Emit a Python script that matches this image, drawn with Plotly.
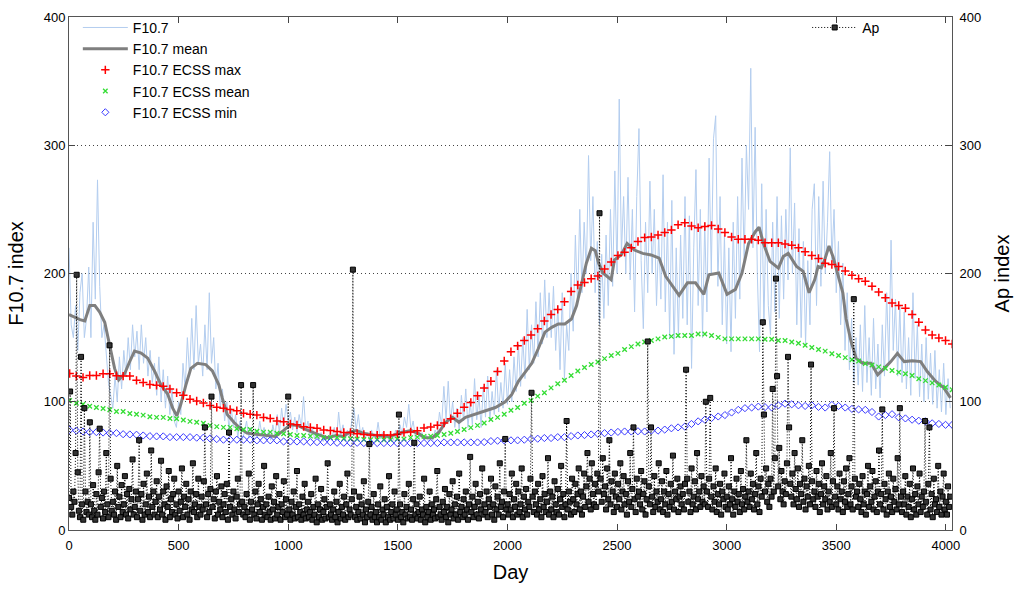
import numpy as np
import plotly.graph_objects as go

# ---------------- data ----------------
f107_days = list(range(0, 4021, 10))
f107 = [
    220, 160, 150, 175, 140, 185, 200, 150, 165, 205, 150, 240, 180, 273, 190, 150, 160, 135, 115, 105,
    95, 120, 100, 135, 110, 140, 120, 150, 125, 160, 135, 155, 125, 160, 130, 150, 120, 140, 115, 130,
    105, 135, 100, 125, 95, 120, 90, 110, 85, 80, 100, 90, 130, 110, 150, 120, 165, 125, 175, 130,
    145, 120, 160, 125, 185, 130, 150, 110, 130, 95, 110, 85, 100, 78, 95, 80, 90, 72, 85, 70,
    76, 85, 72, 80, 70, 78, 72, 85, 74, 80, 71, 77, 70, 82, 73, 90, 76, 95, 80, 98,
    85, 92, 78, 88, 76, 90, 80, 104, 78, 85, 72, 80, 71, 78, 70, 76, 69, 74, 68, 75,
    72, 80, 70, 92, 74, 82, 70, 78, 72, 85, 95, 78, 90, 74, 80, 71, 76, 70, 78, 72,
    72, 84, 71, 76, 70, 74, 69, 75, 70, 78, 72, 82, 74, 88, 80, 98, 78, 85, 72, 78,
    72, 76, 70, 74, 69, 73, 70, 78, 74, 92, 82, 112, 86, 116, 84, 100, 80, 95, 78, 105,
    85, 110, 80, 100, 82, 118, 86, 105, 80, 112, 88, 120, 85, 108, 90, 125, 92, 115, 95, 130,
    98, 125, 100, 135, 108, 145, 112, 150, 118, 172, 125, 160, 130, 178, 135, 185, 145, 195, 150, 185,
    150, 190, 140, 175, 125, 185, 118, 160, 140, 200, 155, 230, 175, 250, 185, 240, 200, 292, 210, 260,
    185, 225, 160, 215, 165, 230, 175, 250, 190, 280, 200, 336, 215, 260, 200, 275, 195, 250, 170, 260,
    313, 210, 157, 240, 185, 272, 200, 250, 175, 230, 180, 277, 170, 240, 150, 257, 137, 220, 150, 230,
    165, 260, 160, 245, 126, 220, 281, 175, 250, 150, 240, 170, 290, 200, 305, 323, 190, 260, 160, 230,
    145, 220, 139, 240, 165, 260, 180, 290, 210, 300, 250, 360, 220, 314, 200, 139, 270, 160, 250, 175,
    152, 240, 170, 260, 165, 245, 180, 250, 195, 298, 200, 255, 160, 235, 150, 225, 145, 210, 160, 250,
    270, 175, 260, 190, 272, 200, 240, 295, 210, 250, 185, 225, 160, 208, 140, 185, 125, 165, 115, 150,
    113, 160, 108, 175, 115, 150, 105, 165, 110, 145, 103, 160, 120, 185, 130, 226, 140, 180, 120, 175,
    115, 170, 110, 150, 105, 185, 118, 160, 104, 145, 100, 150, 102, 138, 98, 140, 95, 125, 92, 130, 90, 118, 95,
]

mean_days = [
    0, 50, 72, 95, 118, 140, 163, 186, 208, 227, 254, 276, 299, 329, 359, 390, 420, 450, 473, 492,
    510, 533, 556, 586, 624, 654, 684, 699, 722, 752, 782, 812, 858, 903, 941, 978, 1009, 1046, 1084, 1129,
    1175, 1220, 1250, 1281, 1311, 1341, 1401, 1462, 1522, 1560, 1598, 1620, 1658, 1688, 1718, 1749, 1779, 1809, 1854, 1899,
    1945, 1990, 2020, 2050, 2081, 2111, 2141, 2171, 2202, 2232, 2262, 2292, 2315, 2337, 2360, 2383, 2401, 2416, 2436, 2473,
    2488, 2519, 2546, 2579, 2617, 2655, 2692, 2722, 2753, 2783, 2821, 2858, 2896, 2919, 2964, 3002, 3040, 3070, 3100, 3130,
    3148, 3168, 3198, 3236, 3258, 3281, 3319, 3349, 3376, 3402, 3417, 3432, 3447, 3467, 3485, 3508, 3530, 3545, 3568, 3591,
    3621, 3659, 3689, 3719, 3749, 3779, 3810, 3847, 3885, 3915, 3953, 3991, 4021,
]
mean_vals = [
    168, 164, 163, 175, 175, 170, 162, 144, 126, 117, 122, 131, 139.5, 138, 134, 124, 113, 106, 95, 89,
    98, 113, 126, 130, 129, 124, 113, 103, 90, 84, 79, 75.5, 74.5, 73.7, 73, 77.5, 82, 81.4, 78, 75,
    72, 73.7, 73, 76.3, 77.5, 75.5, 73.7, 73, 76.3, 77.5, 75, 72, 72, 76.3, 84, 87.8, 84, 87.8, 90.3, 92.4,
    95.5, 100, 105.7, 116, 123.6, 130, 141.5, 154.3, 158, 160.7, 160.7, 164.5, 174.8, 190, 208, 219.6, 217.7, 208, 200.4, 195.2,
    210.6, 214.5, 223.4, 218.3, 215.7, 214.5, 212, 197.8, 190.2, 183, 192.7, 192.7, 183.7, 199, 200.4, 183.7, 187.6, 200.4, 223.4, 232.4,
    236.2, 223.4, 209.4, 204.2, 213.2, 215.7, 205.5, 201.7, 185, 195.3, 205.5, 204.5, 210.6, 221.4, 213.2, 197.8, 185, 164.5, 146.6, 133.8,
    130, 130, 121, 126, 131.3, 137.7, 131.3, 132, 131.3, 123.6, 116, 110.8, 103,
]

ecss_days = list(np.arange(133) * 30.5 + 3)
ecss_max = [
    122, 120, 119, 120.5, 120.5, 121.8, 121.8, 120.3, 120, 120,
    116.7, 115, 113.4, 112.8, 112, 110, 107, 105, 102, 100.6,
    99, 97, 95.7, 95, 94, 93, 91, 90.3, 89.6, 87.8,
    87, 85, 84.4, 82.7, 82, 80.6, 80, 79.3, 78, 77.5,
    76.8, 76, 76, 75, 74.5, 74, 74, 74, 74, 74.5,
    76, 76.5, 77.3, 79.6, 80.4, 81.6, 83.4, 86.8, 91, 95.7,
    99.5, 104.7, 110.8, 116, 123.6, 131.8, 139, 143.6, 147.7, 152,
    157, 163, 168, 172, 178, 186, 191, 193, 196, 198,
    203.5, 209, 214, 216.5, 220, 225, 228, 228.5, 230, 232,
    234, 238, 239.5, 237, 235.7, 236.7, 237.5, 234.7, 232, 228.5,
    226.7, 226.7, 226.7, 226, 224, 224, 224, 223, 222, 220,
    217, 214, 211.7, 208, 207, 205.5, 202, 198.6, 196, 194,
    190, 185.5, 181, 177, 175, 173, 168, 162, 156, 152,
    149.7, 147.7, 145,
]
ecss_mean = [
    101, 98.8, 98, 96.5, 95.5, 94.7, 93.7, 92.4, 92.4, 90.9,
    90.3, 89.6, 88.3, 87.8, 87.8, 87, 86.8, 85.8, 84.7, 84,
    83.2, 81.6, 80.6, 80, 80, 79, 78.3, 78.3, 77, 76.3,
    76.3, 75.5, 75, 74.5, 73.7, 73.7, 73.2, 73, 72, 72,
    72, 71.2, 71.2, 71, 70.6, 70.4, 70.4, 70.4, 70.4, 71,
    71, 72, 72.4, 73, 73.2, 73.7, 74.5, 75.5, 76.8, 78.3,
    79.8, 81.6, 83.4, 86.2, 87.8, 90.3, 93.4, 95.5, 98.8, 101,
    104.4, 107, 110.8, 114, 116.7, 120.5, 124, 126.7, 129, 131,
    133.6, 136, 137.7, 140.7, 143, 145, 146.6, 147.7, 149, 150.5,
    151, 151.7, 151.7, 151.7, 152.8, 152.8, 151.7, 150.2, 149, 149,
    149, 149, 149, 149, 148.7, 148.7, 147.7, 147.7, 146.6, 145.6,
    144, 142.3, 140.7, 139.5, 137.4, 136, 134.4, 132.8, 131.8, 129.7,
    128.7, 127.2, 126.1, 124.4, 123, 121.8, 120.5, 118, 116.5, 114.7,
    113, 111.3, 109.3,
]
ecss_min = [
    78, 77.5, 76.8, 76.3, 76.3, 76, 75.5, 75.5, 74.7, 74.5,
    74.3, 73.7, 73.2, 73, 73, 72.4, 72.4, 72.4, 72.4, 72,
    72, 71.4, 70.9, 70.4, 70.4, 70.4, 70.4, 70.4, 69.9, 69.9,
    69.9, 69.9, 69, 69, 69, 69, 68.5, 68.5, 68.5, 68.5,
    68, 68, 68, 68, 67.8, 67.8, 67.8, 67.8, 67.8, 67.8,
    67.8, 67.8, 67.8, 67.8, 67.8, 67.8, 68.3, 68.3, 68.3, 68.3,
    68.3, 68.3, 68.5, 69.3, 69.6, 69.9, 69.9, 69.9, 70.4, 70.9,
    71.2, 71.7, 71.7, 72.4, 72.4, 73.2, 73.7, 74, 74.5, 75,
    75.5, 76, 76.5, 76.8, 76.8, 77, 76.8, 77.5, 77.5, 78.3,
    79.3, 80, 80.6, 82.7, 84.7, 86, 87.3, 88.5, 89.6, 91.6,
    93.7, 95, 95.5, 96.2, 95.8, 95.5, 97.2, 98.5, 98, 97.2,
    96.7, 97.2, 96, 95.5, 97.5, 96.7, 95.5, 94.4, 94, 93.7,
    92, 88.5, 89.6, 90.3, 87.8, 87, 86, 85.2, 84.7, 83.2,
    82.7, 82, 82,
]

ap_days = list(range(0, 4021, 5))
ap = [
    25, 108, 18, 12, 30, 22, 60, 199, 45, 15, 10, 135, 20, 8, 95, 30, 14, 22, 12, 84,
    20, 10, 35, 15, 8, 28, 12, 45, 79, 18, 25, 9, 30, 14, 60, 20, 10, 144, 40, 15,
    22, 12, 30, 8, 50, 18, 26, 10, 35, 14, 20, 42, 12, 28, 9, 32, 16, 24, 55, 12,
    18, 30, 10, 24, 70, 15, 28, 8, 36, 12, 20, 44, 14, 26, 10, 62, 18, 30, 12, 22,
    38, 10, 26, 16, 54, 12, 30, 20, 8, 34, 18, 46, 10, 24, 14, 28, 40, 12, 20, 9,
    30, 15, 22, 48, 10, 26, 18, 36, 12, 24, 8, 30, 16, 52, 14, 20, 28, 10, 40, 18,
    12, 26, 16, 38, 80, 20, 10, 28, 14, 32, 104, 18, 24, 9, 30, 42, 12, 22, 16, 34,
    10, 20, 28, 14, 36, 8, 76, 18, 24, 12, 30, 16, 9, 26, 40, 14, 20, 113, 22, 12,
    18, 10, 28, 14, 44, 8, 22, 16, 113, 12, 30, 9, 20, 36, 14, 24, 8, 18, 50, 12,
    20, 10, 26, 14, 8, 34, 16, 22, 9, 42, 12, 18, 28, 8, 20, 14, 38, 10, 24, 12,
    104, 16, 8, 22, 12, 30, 9, 18, 46, 10, 20, 14, 8, 26, 12, 36, 9, 16, 22, 10,
    14, 28, 8, 18, 12, 40, 6, 20, 10, 16, 32, 8, 14, 24, 9, 18, 52, 10, 20, 12,
    8, 16, 30, 10, 22, 6, 14, 36, 9, 18, 12, 26, 8, 20, 44, 10, 16, 12, 24, 203,
    30, 10, 18, 8, 14, 26, 9, 20, 12, 38, 6, 16, 10, 22, 67, 12, 18, 8, 28, 10,
    14, 6, 20, 10, 34, 8, 16, 12, 24, 6, 18, 10, 42, 8, 14, 20, 9, 30, 12, 16,
    8, 90, 20, 10, 14, 6, 28, 12, 18, 9, 36, 10, 16, 8, 24, 68, 12, 20, 9, 14,
    26, 8, 16, 12, 40, 6, 18, 10, 14, 30, 8, 20, 12, 16, 9, 24, 46, 10, 18, 12,
    8, 22, 14, 32, 10, 18, 6, 28, 12, 16, 38, 9, 20, 12, 26, 8, 44, 14, 18, 10,
    24, 12, 30, 16, 8, 20, 57, 14, 26, 10, 18, 36, 12, 22, 9, 28, 16, 48, 12, 20,
    14, 30, 10, 24, 18, 40, 12, 20, 8, 34, 16, 26, 12, 52, 18, 22, 10, 30, 71, 16,
    20, 12, 28, 16, 44, 10, 24, 18, 36, 12, 30, 14, 20, 48, 10, 26, 16, 32, 12, 22,
    18, 40, 107, 26, 14, 30, 20, 12, 36, 16, 24, 10, 42, 18, 28, 14, 22, 56, 12, 30,
    16, 26, 10, 38, 20, 14, 32, 12, 24, 50, 18, 28, 10, 20, 85, 16, 30, 22, 12, 40,
    24, 14, 36, 20, 28, 48, 16, 30, 12, 26, 44, 18, 34, 60, 22, 40, 16, 52, 28, 20,
    36, 18, 44, 30, 247, 40, 22, 56, 28, 34, 16, 48, 24, 70, 20, 38, 30, 14, 44, 26,
    18, 36, 24, 52, 16, 30, 42, 20, 28, 12, 38, 22, 60, 18, 32, 80, 24, 14, 40, 26,
    30, 20, 46, 16, 28, 38, 12, 24, 147, 34, 20, 80, 26, 14, 42, 18, 30, 22, 52, 16,
    24, 38, 14, 30, 20, 46, 12, 28, 18, 36, 22, 58, 16, 30, 24, 40, 14, 26, 34, 20,
    28, 16, 36, 125, 40, 22, 30, 14, 48, 20, 26, 38, 16, 60, 24, 30, 18, 42, 22, 34,
    20, 100, 30, 18, 40, 103, 26, 16, 34, 22, 48, 14, 28, 20, 36, 12, 30, 24, 44, 18,
    26, 16, 34, 20, 56, 24, 12, 30, 18, 40, 22, 28, 14, 46, 20, 32, 16, 26, 70, 22,
    30, 18, 44, 24, 36, 16, 28, 60, 20, 34, 14, 40, 26, 162, 90, 30, 48, 22, 36, 18,
    40, 26, 110, 30, 56, 196, 120, 34, 64, 24, 46, 30, 20, 38, 28, 52, 135, 80, 36, 26,
    44, 20, 60, 32, 24, 48, 18, 36, 28, 70, 22, 40, 16, 34, 26, 50, 20, 129, 38, 24,
    30, 18, 46, 26, 36, 14, 28, 52, 20, 34, 24, 42, 16, 30, 22, 60, 18, 38, 95, 26,
    20, 34, 16, 44, 24, 30, 14, 38, 22, 48, 18, 28, 56, 20, 34, 16, 180, 40, 26, 30,
    18, 36, 24, 14, 42, 20, 30, 12, 28, 50, 18, 34, 22, 46, 16, 26, 38, 14, 30, 62,
    20, 28, 94, 16, 36, 24, 12, 30, 44, 18, 26, 14, 40, 22, 32, 16, 56, 20, 95, 26,
    14, 30, 20, 42, 12, 26, 18, 36, 10, 24, 48, 16, 28, 12, 34, 20, 44, 14, 26, 18,
    30, 85, 22, 12, 36, 80, 16, 28, 10, 40, 20, 24, 14, 50, 18, 30, 12, 26, 44, 16,
    22, 12, 34, 18, 26,
]

x_ticks = [0, 500, 1000, 1500, 2000, 2500, 3000, 3500, 4000]
y_ticks = [0, 100, 200, 300, 400]

# ---------------- figure ----------------
FONT = "Liberation Sans, Arial, Helvetica, sans-serif"
fig = go.Figure()

fig.add_trace(go.Scatter(x=f107_days, y=f107, mode="lines", name="F10.7",
                         line=dict(color="#b3cdef", width=1), legend="legend"))
fig.add_trace(go.Scatter(x=mean_days, y=mean_vals, mode="lines", name="F10.7 mean",
                         line=dict(color="#7f7f7f", width=3), legend="legend"))
fig.add_trace(go.Scatter(x=ecss_days, y=ecss_max, mode="markers", name="F10.7 ECSS max",
                         marker=dict(symbol="cross-thin", size=6, line=dict(color="#ff0000", width=1.5)),
                         legend="legend"))
fig.add_trace(go.Scatter(x=ecss_days, y=ecss_mean, mode="markers", name="F10.7 ECSS mean",
                         marker=dict(symbol="x-thin", size=4.5, line=dict(color="#33dd33", width=1.3)),
                         legend="legend"))
fig.add_trace(go.Scatter(x=ecss_days, y=ecss_min, mode="markers", name="F10.7 ECSS min",
                         marker=dict(symbol="diamond-open", size=5.5, color="#3a3aff",
                                     line=dict(color="#3a3aff", width=1)),
                         legend="legend"))
fig.add_trace(go.Scatter(x=ap_days, y=ap, mode="lines+markers", name="Ap", yaxis="y2",
                         line=dict(color="black", width=1, dash="1px,2px"),
                         marker=dict(symbol="square", size=5, color="#333333",
                                     line=dict(color="black", width=1)),
                         legend="legend2"))

axis_common = dict(
    ticks="inside", ticklen=6, tickcolor="#444", linecolor="#555", linewidth=1,
    showline=True, zeroline=False,
    tickfont=dict(family=FONT, size=13, color="black"),
)

fig.update_layout(
    width=1019, height=590, autosize=False,
    margin=dict(l=69, r=61, t=10, b=59, pad=0),
    paper_bgcolor="white", plot_bgcolor="white",
    font=dict(family=FONT, color="black"),
    showlegend=True,
    xaxis=dict(range=[0, 4028], tickvals=x_ticks, ticktext=[str(v) for v in x_ticks],
               showgrid=False, mirror="ticks", ticklabelstandoff=3,
               title=dict(text="Day", font=dict(family=FONT, size=20), standoff=13),
               **axis_common),
    yaxis=dict(range=[0, 400], tickvals=y_ticks, ticktext=[str(v) for v in y_ticks],
               showgrid=True, gridcolor="#444", griddash="1px,3px", gridwidth=1,
               title=dict(text="F10.7 index", font=dict(family=FONT, size=20), standoff=14),
               **axis_common),
    yaxis2=dict(range=[0, 400], tickvals=y_ticks, ticktext=[str(v) for v in y_ticks],
                overlaying="y", side="right", showgrid=False, ticklabelstandoff=4,
                title=dict(text="Ap index", font=dict(family=FONT, size=20), standoff=14),
                **axis_common),
    legend=dict(x=0.01, y=1.01, xanchor="left", yanchor="top", itemwidth=45,
                bgcolor="rgba(0,0,0,0)", borderwidth=0, tracegroupgap=0,
                font=dict(family=FONT, size=14, color="black")),
    legend2=dict(x=0.836, y=1.01, xanchor="left", yanchor="top", itemwidth=45,
                 bgcolor="rgba(0,0,0,0)", borderwidth=0,
                 font=dict(family=FONT, size=14, color="black")),
)

fig.write_html("out.html")
